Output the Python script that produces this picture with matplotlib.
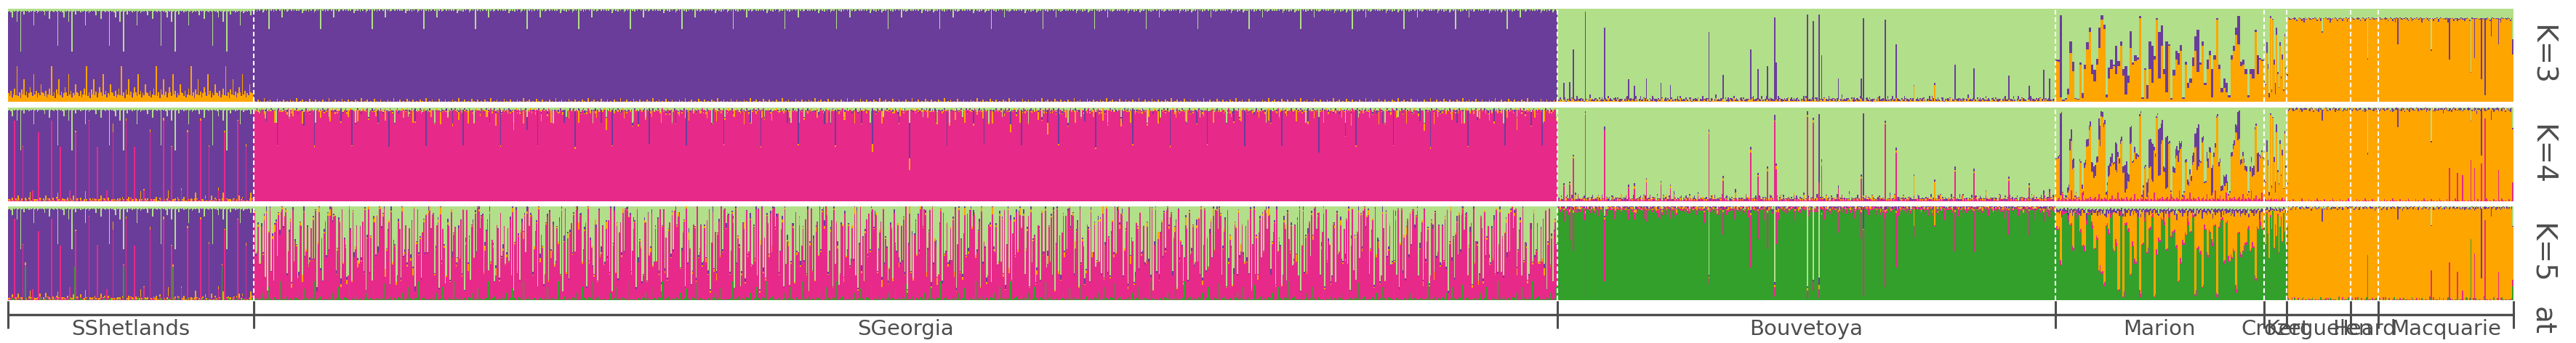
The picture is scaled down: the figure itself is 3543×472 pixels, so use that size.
"""Admixture bar plot, K=3..5, eight breeding sites (one bar per individual)."""
import numpy as np
import matplotlib
matplotlib.use("Agg")
import matplotlib.pyplot as plt

POPS = ["SShetlands", "SGeorgia", "Bouvetoya", "Marion", "Crozet",
        "Kerguelen", "Heard", "Macquarie"]
N_IND = [205, 1086, 415, 174, 19, 53, 23, 113]
KS = [3, 4, 5]
# cluster letters, bottom -> top of every bar
STACK = {3: "oul", 4: "poul", 5: "gpoul"}
COLORS = {"g": "#33a02c", "p": "#e7298a", "o": "#ffa500",
          "u": "#6a3d9a", "l": "#b2df8a"}

# Per-individual membership (%); each list runs along
# its population and starts over when it reaches the end.
SSH_L = [3, 2, 4, 9, 2, 3, 2, 14, 3, 2, 46, 3, 2, 6, 2, 3, 2, 4, 2, 3, 2, 18,
         3, 2, 5, 3, 2, 3, 2, 3, 7, 2, 3, 2, 11, 3, 2, 3, 4, 2, 3, 40, 2]
SSH_O3 = [9, 6, 12, 5, 8, 14, 7, 38, 6, 10, 4, 13, 8, 24, 7, 11, 5, 9, 16, 10,
          6, 30, 8, 12, 5, 9, 7, 19, 10]
SSH_P4 = [1, 0, 2, 1, 0, 86, 1, 0, 1, 3, 0, 1, 58, 0, 1, 1, 0, 2, 1, 0, 12, 1,
          0, 1, 0, 74, 1, 2, 0, 1, 0]
SSH_O4 = [1, 2, 0, 3, 1, 0, 2, 1, 5, 0, 1, 2, 1, 0, 3, 1, 0, 2, 9, 1, 0, 1, 2]
SSH_G5 = [0, 1, 0, 2, 0, 1, 0, 0, 1, 0, 2, 0, 1, 0, 36, 0, 1, 0, 0, 2, 0, 1, 0,
          0, 1, 0, 3, 0, 1, 0, 0, 2, 0, 1, 0, 0, 1, 0, 0, 2, 0]

SGE_L3 = [2, 1, 3, 1, 2, 1, 1, 4, 2, 1, 2, 1, 22, 1, 2, 1, 3, 1, 2, 1, 1, 2, 1,
          9, 1, 2, 1, 3, 2, 1, 1, 2, 1, 2, 1, 2, 1, 2, 1, 1, 5, 2, 1]
SGE_O3 = [1, 0, 0, 2, 0, 1, 0, 0, 4, 0, 0, 1, 0, 2, 0, 0, 1, 0, 0, 3, 0, 1, 0,
          0, 2, 0, 0]
SGE_L4 = [3, 2, 1, 4, 2, 3, 1, 2, 5, 2, 1, 3, 2, 4, 1, 2, 3, 2, 16, 2, 1, 3, 2,
          4, 1, 2, 3, 2, 1, 10, 2, 3, 1]
SGE_O4 = [1, 2, 0, 1, 3, 0, 1, 0, 2, 8, 0, 1, 1, 0, 2, 0, 1, 13, 0, 1, 0, 2, 1]
SGE_U4 = [1, 0, 2, 0, 1, 3, 0, 1, 0, 2, 14, 0, 1, 0, 1, 2, 0, 1, 0, 38, 1, 0,
          2, 0, 1, 0, 1, 3, 0, 1, 0]
SGE_P5 = [92, 45, 50, 78, 35, 38, 76, 40, 84, 25, 95, 8, 58, 96, 28, 65, 20,
          70, 82, 45, 90, 50, 94, 97, 75, 88, 90, 25, 52, 72, 82, 12, 96, 38,
          62, 55, 15, 25, 80, 75, 18]
SGE_G5 = [1, 2, 1, 0, 3, 1, 2, 8, 1, 0, 2, 1, 14, 1, 2, 0, 1, 3, 1, 2, 1, 20, 0,
          1, 2, 1, 4, 1, 0]
SGE_O5 = [2, 0, 1, 3, 0, 1, 0, 2, 5, 0, 1, 0, 2, 1, 0, 3, 0, 8, 1, 0, 2, 0, 1]
SGE_U5 = [1, 3, 0, 2, 1, 0, 4, 1, 2, 0, 6, 1, 0, 2, 1, 3, 0, 1, 2, 0, 1, 5, 0,
          1, 2, 0, 1, 3, 0, 2, 1]

BOU_O3 = [1, 1, 2, 1, 1, 3, 1, 0, 1, 2, 1, 1, 4, 1, 1]
BOU_U3 = [2, 1, 3, 1, 0, 2, 4, 1, 2, 1, 3, 2, 1, 0, 2, 1, 5, 1, 2, 3, 1]
BOU_P4 = [1, 2, 1, 3, 1, 2, 1, 1, 4, 2, 1, 2, 1, 3, 1, 2, 1, 6, 1, 2]
BOU_O4 = [1, 0, 1, 2, 0, 1, 0, 3, 1, 0, 1, 0, 2, 0, 1, 5, 0, 1, 0]
BOU_U4 = [1, 2, 0, 1, 1, 3, 0, 1, 2, 1, 0, 1, 4, 1, 0, 2, 1]
BOU_P5 = [2, 1, 3, 1, 2, 4, 1, 2, 1, 8, 2, 1, 3, 1, 2, 1, 5, 2, 1, 3, 1, 2, 12,
          1, 2]
BOU_O5 = [1, 0, 2, 1, 0, 1, 3, 0, 1, 0, 1, 2, 0, 1, 4, 0, 1]
BOU_U5 = [1, 1, 0, 2, 1, 1, 0, 1, 3, 1, 0, 1, 1, 2, 0, 1, 1, 0, 2]
BOU_L5 = [0, 0, 1, 0, 0, 0, 0, 2, 0, 0, 0, 0, 0, 1, 0, 0, 0, 0, 3, 0, 0, 0, 0]

# Marion was read in pairs of neighbouring bars (one value = two individuals)
MAR_O3 = [44, 43, 5, 1, 2, 8, 52, 33, 3, 2, 40, 4, 35, 56, 75, 30, 22, 40, 58,
          88, 78, 5, 25, 35, 38, 30, 38, 60, 28, 8, 20, 58, 40, 44, 45, 90, 3,
          34, 3, 35, 20, 45, 88, 25, 60, 30, 10, 60, 2, 28, 45, 40, 55, 3, 40,
          15, 20, 38, 55, 32, 40, 60, 18, 35, 50, 5, 45, 88, 35, 10, 15, 10, 5,
          45, 55, 72, 62, 38, 40, 30, 5, 30, 25, 75, 30, 45]
MAR_U3 = [1, 2, 88, 1, 2, 6, 13, 10, 1, 1, 2, 5, 5, 8, 5, 10, 12, 6, 22, 5, 5,
          3, 12, 10, 2, 30, 6, 5, 7, 30, 8, 18, 2, 6, 3, 2, 2, 2, 15, 30, 40, 4,
          2, 50, 22, 5, 55, 2, 2, 6, 10, 12, 6, 2, 3, 5, 5, 10, 15, 45, 2, 5, 2,
          10, 5, 30, 5, 2, 5, 5, 10, 10, 2, 5, 5, 8, 30, 5, 5, 5, 2, 5, 10, 2,
          20, 2]
MAR_P4 = [2, 1, 3, 5, 1, 2, 8, 1, 3, 2, 1, 4, 2, 12, 1, 3, 2, 6, 1, 2, 3, 1, 9,
          2, 1, 4, 2, 3, 1, 5]
MAR_G5 = [75, 75, 37, 98, 98, 95, 80, 53, 93, 95, 72, 57, 52, 91, 94, 76, 54,
          64, 31, 28, 15, 79, 70, 93, 52, 57, 10, 95, 3, 80, 73, 26, 57, 39, 90,
          3, 59, 93, 50, 75, 88, 3, 48, 62, 85, 80, 53, 93, 67, 72, 55, 19, 39,
          59, 69, 80, 72, 88, 5, 54, 49, 13, 75, 46, 72, 57, 79, 3, 77, 85, 39,
          82, 41, 44, 52, 8, 71, 46, 52, 59, 75, 52, 56, 21, 75, 80]
MAR_P5 = [2, 4, 1, 3, 6, 1, 5, 2, 3, 1, 8, 4, 1, 2, 5, 3, 1, 6, 2, 3]
MAR_U5 = [3, 4, 2, 5, 3, 7, 2, 4, 3, 2, 9, 3, 4, 2, 6, 3]
MAR_L5 = [3, 2, 4, 3, 2, 5, 3, 2, 3, 4, 2, 8, 3, 2, 4]

CRO_O3 = [20, 18, 52, 35, 5, 90, 10, 88, 40, 8, 72, 30, 15, 60, 25, 45, 12, 70,
          35]
CRO_U3 = [2, 1, 12, 6, 4, 2, 3, 1, 5, 12, 8, 2, 1, 4, 2, 6, 1, 3, 2]
CRO_P4 = [1, 2, 1, 3, 1, 2, 4, 1, 2]
CRO_G5 = [85, 60, 92, 70, 45, 88, 75, 95, 55, 80, 68, 90, 50, 78, 86, 62, 93,
          72, 58]
CRO_P5 = [1, 0, 2, 1, 0, 3, 1, 0, 1]
CRO_U5 = [2, 1, 3, 1, 2, 4, 1, 2]
CRO_L5 = [2, 3, 1, 2, 4, 1, 2]

# Kerguelen, Heard and Macquarie share the same thin fringes
EAST_L3 = [10, 9, 10, 11, 10, 10, 9, 10, 12, 10, 9, 10, 11, 10, 10, 9, 11]
EAST_U3 = [1, 1, 2, 1, 0, 1, 3, 1, 1, 0, 1, 1, 2, 1, 5, 1, 1, 0, 1, 2, 1, 1]
EAST_L4 = [1, 2, 1, 0, 1, 1, 2, 1, 0, 1, 3, 1]
EAST_U4 = [1, 2, 1, 0, 1, 3, 1, 1, 2, 0, 1, 1, 4, 1]
EAST_P4 = [1, 0, 1, 0, 0, 2, 0, 1, 0, 0, 1, 0, 3]
EAST_L5 = [1, 0, 1, 2, 1, 0, 1, 1, 0, 2, 1]
EAST_U5 = [1, 1, 0, 2, 1, 1, 0, 3, 1, 0, 1, 2, 1]
EAST_P5 = [0, 1, 0, 0, 2, 0, 1, 0, 0, 1, 0, 0, 1, 0]
EAST_G5 = [0, 1, 0, 0, 1, 0, 2, 0, 0, 1, 0, 0, 0, 3, 0]

# single admixed individuals: (index in population, K=3, K=4, K=5)
BOU_SPIKES = [
    (5, "u18 o2", "p16 u2", "p12 o2 u2"),
    (10, "u20", "p18 u2", "p30 o3 u3"),
    (13, "u54 o2", "p46 o2 u2", "p40 o3 u3"),
    (23, "u96", "p92 o2 u2", "p90 o3 u3 l2"),
    (39, "u78 o2", "p76 u4", "p66 o2 u2 l10"),
    (59, "u22 o2", "p14 u3", "p10 u2"),
    (64, "u16", "p13 u3", "p8 o2"),
    (74, "u22 o3", "p20 o3 u2", "p12 o2 u2"),
    (86, "u18 o2", "p18 o2 u2", "p12 o2"),
    (94, "u16 o2", "p14 o2 u2", "p10 u2"),
    (126, "u74", "p72 u3", "p6 o2 u2 l73"),
    (138, "u26 o3", "p22 o3 u2", "p24 o2 u4"),
    (161, "u54 o2", "p52 o3 u3", "p56 o2 u3 l4"),
    (167, "u33", "p26 o2 u2", "p30 o2 u3"),
    (175, "u36 o2", "p32 o3 u2", "p38 o3 u4"),
    (181, "u90", "p85 u6", "p10 u3 l81"),
    (182, "u40 o2", "p34 o4 u2", "p34 o2 u4"),
    (208, "u93", "p90 o2 u4", "p8 o3 l85"),
    (213, "u86", "p84 o3 u2", "p10 u2 l78"),
    (218, "u93", "p20 u73", "p10 u8 l76"),
    (220, "u48 o2", "p38 o4 u3", "p40 o3 u5"),
    (234, "u23 o2", "p14 u3", "p22 o2 u4"),
    (253, "u22 o3", "p24 o2 u3", "p28 o2 u4"),
    (255, "u89", "p5 u88", "p70 u23"),
    (273, "u87", "p82 o2 u2", "p80 o2 u4"),
    (282, "u58", "p52 o2 u3", "p58 o2 u5"),
    (297, "o17", "o21", "o20"),
    (314, "o18 u2", "o20", "o20 p2"),
    (331, "u38 o2", "p32 u4", "p42 o2 u4"),
    (347, "u34 o2", "p30 o2 u3", "p44 o2 u2"),
    (376, "u26 o2", "p22 o2 u2", "p26 o2 u2"),
    (393, "u15 o2", "p15 o2 u2", "p26 o2 u2"),
    (405, "u32 o2", "p8 u4", "p10 u2"),
    (410, "u24 o1", "p10 u3", "p8 u2"),
]
KER_SPIKES = [
    (0, "l70 u3", "l80 u2", "g80 l5 u2"),
    (29, "l24 u2", "l2 u12", "l2 u14"),
]
HEA_SPIKES = [
    (14, "l53 u2", "l48 u2", "g48 l2"),
]
MAC_SPIKES = [
    (16, "u28 l10", "u20", "u14"),
    (44, "l44", "l36", "p32 l20"),
    (59, "u45 l10", "p36 u3", "p40 u2"),
    (66, "u3 l10", "p30", "p28"),
    (70, "u2 l10", "p28", "p10"),
    (77, "l68", "l14 p44", "g65 l3"),
    (80, "u43 l10", "p36 u4", "p50 u3"),
    (86, "u66 l10", "p40 u50", "u75"),
    (89, "u83 l10", "p88 u3", "p85 u3"),
    (94, "u20 l10", "u10", "u10"),
    (100, "u28 l10", "p33 u3", "p30"),
    (112, "l33 u16", "l22 p20", "l21 p7 g15"),
]

MAR_PAIRS = {"o": MAR_O3, "u": MAR_U3}
EAST3 = {"l": EAST_L3, "u": EAST_U3}
EAST4 = {"l": EAST_L4, "u": EAST_U4, "p": EAST_P4}
EAST5 = {"l": EAST_L5, "u": EAST_U5, "p": EAST_P5, "g": EAST_G5}
PATTERNS = {
    ("SShetlands", 3): {"l": SSH_L, "o": SSH_O3},
    ("SShetlands", 4): {"l": SSH_L, "p": SSH_P4, "o": SSH_O4},
    ("SShetlands", 5): {"l": SSH_L, "p": SSH_P4, "o": SSH_O4, "g": SSH_G5},
    ("SGeorgia", 3): {"l": SGE_L3, "o": SGE_O3},
    ("SGeorgia", 4): {"l": SGE_L4, "o": SGE_O4, "u": SGE_U4},
    ("SGeorgia", 5): {"p": SGE_P5, "g": SGE_G5, "o": SGE_O5, "u": SGE_U5},
    ("Bouvetoya", 3): {"o": BOU_O3, "u": BOU_U3},
    ("Bouvetoya", 4): {"p": BOU_P4, "o": BOU_O4, "u": BOU_U4},
    ("Bouvetoya", 5): {"p": BOU_P5, "o": BOU_O5, "u": BOU_U5, "l": BOU_L5},
    ("Marion", 3): {"o": MAR_O3, "u": MAR_U3},
    ("Marion", 4): {"o": MAR_O3, "u": MAR_U3, "p": MAR_P4},
    ("Marion", 5): {"g": MAR_G5, "p": MAR_P5, "u": MAR_U5, "l": MAR_L5},
    ("Crozet", 3): {"o": CRO_O3, "u": CRO_U3},
    ("Crozet", 4): {"o": CRO_O3, "u": CRO_U3, "p": CRO_P4},
    ("Crozet", 5): {"g": CRO_G5, "p": CRO_P5, "u": CRO_U5, "l": CRO_L5},
    ("Kerguelen", 3): EAST3, ("Kerguelen", 4): EAST4, ("Kerguelen", 5): EAST5,
    ("Heard", 3): EAST3, ("Heard", 4): EAST4, ("Heard", 5): EAST5,
    ("Macquarie", 3): EAST3, ("Macquarie", 4): EAST4, ("Macquarie", 5): EAST5,
}
# lists read two bars at a time
PAIRED = {id(MAR_O3), id(MAR_U3), id(MAR_G5)}
# cluster that takes whatever is left of each bar
FILLER = {
    "SShetlands": {3: "u", 4: "u", 5: "u"},
    "SGeorgia": {3: "u", 4: "p", 5: "l"},
    "Bouvetoya": {3: "l", 4: "l", 5: "g"},
    "Marion": {3: "l", 4: "l", 5: "o"},
    "Crozet": {3: "l", 4: "l", 5: "o"},
    "Kerguelen": {3: "o", 4: "o", 5: "o"},
    "Heard": {3: "o", 4: "o", 5: "o"},
    "Macquarie": {3: "o", 4: "o", 5: "o"},
}
SPIKES = {"Bouvetoya": BOU_SPIKES, "Kerguelen": KER_SPIKES,
          "Heard": HEA_SPIKES, "Macquarie": MAC_SPIKES}

W_PX, H_PX = 3543, 472
LEFT, RIGHT = 11, 3457
ROWS = {3: (12, 140), 4: (148, 277), 5: (284, 413)}
GREY = "#4d4d4d"


def parse(spec):
    return {tok[0]: float(tok[1:]) / 100 for tok in spec.split()}


def shares(pop, k):
    n = N_IND[POPS.index(pop)]
    q = {c: np.zeros(n) for c in STACK[k]}
    for c, pat in PATTERNS[(pop, k)].items():
        vals = np.asarray(pat, float) / 100
        if id(pat) in PAIRED:
            vals = np.repeat(vals, 2)
        q[c] = np.resize(vals, n)
    for spike in SPIKES.get(pop, []):
        for c, v in parse(spike[KS.index(k) + 1]).items():
            q[c][spike[0]] = v
    fill = FILLER[pop][k]
    q[fill] = np.clip(1 - sum(q[c] for c in q if c != fill), 0, None)
    tot = sum(q.values())
    return {c: v / tot for c, v in q.items()}


fig = plt.figure(figsize=(W_PX / 100, H_PX / 100), dpi=100)


def px_axes(x0, y0, x1, y1):
    return fig.add_axes([x0 / W_PX, 1 - y1 / H_PX, (x1 - x0) / W_PX, (y1 - y0) / H_PX])


total = sum(N_IND)
edges = np.concatenate([[0], np.cumsum(N_IND)])
x = np.arange(total) + 0.5

for k in KS:
    top, bot = ROWS[k]
    ax = px_axes(LEFT, top, RIGHT, bot)
    per_pop = [shares(p, k) for p in POPS]
    base = np.zeros(total)
    for c in STACK[k]:
        h = np.concatenate([s[c] for s in per_pop])
        ax.bar(x, h, bottom=base.copy(), width=1.0, color=COLORS[c],
               linewidth=0, antialiased=False)
        base += h
    for b in edges[1:-1]:
        ax.axvline(b, color="white", lw=1.5, ls=(0, (3, 1.8)))
    ax.set_xlim(0, total)
    ax.set_ylim(0, 1)
    ax.axis("off")
    fig.text(3496 / W_PX, 1 - (top + bot) / 2 / H_PX, f"K={k}", rotation=270,
             ha="center", va="center", fontsize=28, color=GREY)

axb = px_axes(LEFT, 400, RIGHT, 472)
axb.set_xlim(0, total)
axb.set_ylim(472, 400)
axb.axis("off")
axb.hlines(433, 0, total, color=GREY, lw=2.4, clip_on=False)
axb.vlines(edges, 414, 452, color=GREY, lw=2.2, clip_on=False)
for p, a, b in zip(POPS, edges[:-1], edges[1:]):
    axb.text((a + b) / 2, 461, p, ha="center", va="baseline", fontsize=21, color=GREY)
fig.text(3496 / W_PX, 1 - 442 / H_PX, "at", rotation=270, ha="center",
         va="center", fontsize=28, color=GREY)

fig.savefig("out.png", dpi=100)
